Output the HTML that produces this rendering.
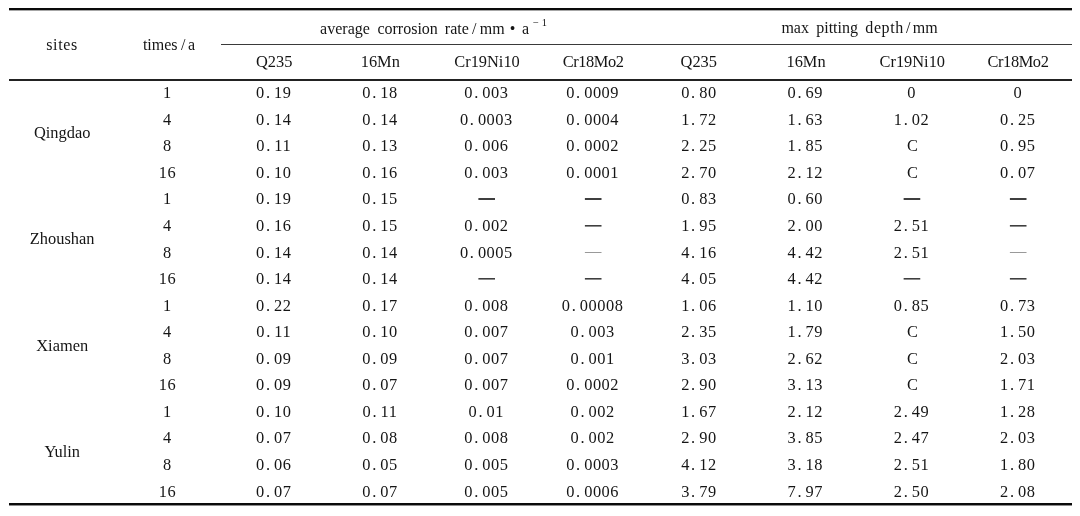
<!DOCTYPE html>
<html><head><meta charset="utf-8"><title>Corrosion data table</title>
<style>
html,body{margin:0;padding:0;background:#fff;}
#t{position:absolute;left:0;top:0;width:1080px;height:516px;filter:grayscale(1);}
body{width:1080px;height:516px;overflow:hidden;position:relative;
 font-family:"Liberation Serif","Noto Serif CJK SC",serif;color:#151515;}
.r{position:absolute;}
.c{position:absolute;width:106.30px;text-align:center;white-space:nowrap;height:20px;line-height:20px;font-size:16.40px;}
.n{letter-spacing:0.5px;}
.c b{font-weight:normal;margin-left:1.2px;letter-spacing:4.0px;}
.w{position:absolute;white-space:nowrap;height:20px;line-height:20px;font-size:16px;}
.s{font-size:10.5px;}
.s i{font-style:normal;letter-spacing:3px;}
.d{position:relative;top:-2px;}
.d2{text-shadow:0 1px 0 #151515;}
.d15{text-shadow:0 0.5px 0 rgba(21,21,21,.6);}
.dl{color:#888;}
</style></head><body><div id="t">

<div class="r" style="left:9px;top:8px;width:1063px;height:2px;background:#0a0a0a;box-shadow:0 1px 0 rgba(0,0,0,.35)"></div>
<div class="r" style="left:221px;top:44px;width:851px;height:1px;background:#3a3a3a"></div>
<div class="r" style="left:9px;top:79px;width:1063px;height:2px;background:#222"></div>
<div class="r" style="left:9px;top:503px;width:1063px;height:2px;background:#0a0a0a;box-shadow:0 1px 0 rgba(0,0,0,.45)"></div>
<div class="w" style="left:320.1px;top:19px">average</div>
<div class="w" style="left:377.4px;top:19px">corrosion</div>
<div class="w" style="left:444.8px;top:19px">rate</div>
<div class="w" style="left:472.1px;top:19px">/</div>
<div class="w" style="left:479.8px;top:19px">mm</div>
<div class="w" style="left:509.8px;top:19px">•</div>
<div class="w" style="left:522.0px;top:19px">a</div>
<div class="w s" style="left:532.9px;top:15px;line-height:16px;height:16px"><i>−</i>1</div>
<div class="w" style="left:781.4px;top:18px">max</div>
<div class="w" style="left:816.2px;top:18px">pitting</div>
<div class="w" style="left:865.3px;top:18px;letter-spacing:0.6px">depth</div>
<div class="w" style="left:906.0px;top:18px">/</div>
<div class="w" style="left:912.8px;top:18px">mm</div>
<div class="w" style="left:46.3px;top:35px;letter-spacing:0.6px">sites</div>
<div class="w" style="left:142.9px;top:35px">times</div>
<div class="w" style="left:181.0px;top:35px">/</div>
<div class="w" style="left:187.9px;top:35px">a</div>
<div class="c" style="left:221.10px;top:51.9px">Q235</div>
<div class="c" style="left:327.15px;top:51.9px">16Mn</div>
<div class="c" style="left:433.90px;top:51.9px">Cr19Ni10</div>
<div class="c" style="left:540.00px;top:51.9px;letter-spacing:-0.4px">Cr18Mo2</div>
<div class="c" style="left:645.65px;top:51.9px">Q235</div>
<div class="c" style="left:752.90px;top:51.9px">16Mn</div>
<div class="c" style="left:859.15px;top:51.9px">Cr19Ni10</div>
<div class="c" style="left:964.85px;top:51.9px;letter-spacing:-0.4px">Cr18Mo2</div>
<div class="c" style="left:9.05px;top:122.5px">Qingdao</div>
<div class="c" style="left:9.05px;top:229.3px">Zhoushan</div>
<div class="c" style="left:9.05px;top:335.6px">Xiamen</div>
<div class="c" style="left:9.05px;top:441.7px">Yulin</div>
<div class="c n" style="left:114.25px;top:82.7px">1</div>
<div class="c n" style="left:220.55px;top:82.7px">0<b>.</b>19</div>
<div class="c n" style="left:326.85px;top:82.7px">0<b>.</b>18</div>
<div class="c n" style="left:433.15px;top:82.7px">0<b>.</b>003</div>
<div class="c n" style="left:539.45px;top:82.7px">0<b>.</b>0009</div>
<div class="c n" style="left:645.75px;top:82.7px">0<b>.</b>80</div>
<div class="c n" style="left:752.05px;top:82.7px">0<b>.</b>69</div>
<div class="c n" style="left:858.35px;top:82.7px">0</div>
<div class="c n" style="left:964.65px;top:82.7px">0</div>
<div class="c n" style="left:114.25px;top:109.7px">4</div>
<div class="c n" style="left:220.55px;top:109.7px">0<b>.</b>14</div>
<div class="c n" style="left:326.85px;top:109.7px">0<b>.</b>14</div>
<div class="c n" style="left:433.15px;top:109.7px">0<b>.</b>0003</div>
<div class="c n" style="left:539.45px;top:109.7px">0<b>.</b>0004</div>
<div class="c n" style="left:645.75px;top:109.7px">1<b>.</b>72</div>
<div class="c n" style="left:752.05px;top:109.7px">1<b>.</b>63</div>
<div class="c n" style="left:858.35px;top:109.7px">1<b>.</b>02</div>
<div class="c n" style="left:964.65px;top:109.7px">0<b>.</b>25</div>
<div class="c n" style="left:114.25px;top:135.7px">8</div>
<div class="c n" style="left:220.55px;top:135.7px">0<b>.</b>11</div>
<div class="c n" style="left:326.85px;top:135.7px">0<b>.</b>13</div>
<div class="c n" style="left:433.15px;top:135.7px">0<b>.</b>006</div>
<div class="c n" style="left:539.45px;top:135.7px">0<b>.</b>0002</div>
<div class="c n" style="left:645.75px;top:135.7px">2<b>.</b>25</div>
<div class="c n" style="left:752.05px;top:135.7px">1<b>.</b>85</div>
<div class="c" style="left:859.40px;top:135.7px">C</div>
<div class="c n" style="left:964.65px;top:135.7px">0<b>.</b>95</div>
<div class="c n" style="left:114.25px;top:162.7px">16</div>
<div class="c n" style="left:220.55px;top:162.7px">0<b>.</b>10</div>
<div class="c n" style="left:326.85px;top:162.7px">0<b>.</b>16</div>
<div class="c n" style="left:433.15px;top:162.7px">0<b>.</b>003</div>
<div class="c n" style="left:539.45px;top:162.7px">0<b>.</b>0001</div>
<div class="c n" style="left:645.75px;top:162.7px">2<b>.</b>70</div>
<div class="c n" style="left:752.05px;top:162.7px">2<b>.</b>12</div>
<div class="c" style="left:859.40px;top:162.7px">C</div>
<div class="c n" style="left:964.65px;top:162.7px">0<b>.</b>07</div>
<div class="c n" style="left:114.25px;top:188.7px">1</div>
<div class="c n" style="left:220.55px;top:188.7px">0<b>.</b>19</div>
<div class="c n" style="left:326.85px;top:188.7px">0<b>.</b>15</div>
<div class="c n" style="left:433.90px;top:188.7px"><span class="d d2">—</span></div>
<div class="c n" style="left:540.20px;top:188.7px"><span class="d d2">—</span></div>
<div class="c n" style="left:645.75px;top:188.7px">0<b>.</b>83</div>
<div class="c n" style="left:752.05px;top:188.7px">0<b>.</b>60</div>
<div class="c n" style="left:859.10px;top:188.7px"><span class="d d2">—</span></div>
<div class="c n" style="left:965.40px;top:188.7px"><span class="d d2">—</span></div>
<div class="c n" style="left:114.25px;top:215.7px">4</div>
<div class="c n" style="left:220.55px;top:215.7px">0<b>.</b>16</div>
<div class="c n" style="left:326.85px;top:215.7px">0<b>.</b>15</div>
<div class="c n" style="left:433.15px;top:215.7px">0<b>.</b>002</div>
<div class="c n" style="left:540.20px;top:215.7px"><span class="d d15">—</span></div>
<div class="c n" style="left:645.75px;top:215.7px">1<b>.</b>95</div>
<div class="c n" style="left:752.05px;top:215.7px">2<b>.</b>00</div>
<div class="c n" style="left:858.35px;top:215.7px">2<b>.</b>51</div>
<div class="c n" style="left:965.40px;top:215.7px"><span class="d d15">—</span></div>
<div class="c n" style="left:114.25px;top:242.7px">8</div>
<div class="c n" style="left:220.55px;top:242.7px">0<b>.</b>14</div>
<div class="c n" style="left:326.85px;top:242.7px">0<b>.</b>14</div>
<div class="c n" style="left:433.15px;top:242.7px">0<b>.</b>0005</div>
<div class="c n" style="left:540.20px;top:242.7px"><span class="d dl">—</span></div>
<div class="c n" style="left:645.75px;top:242.7px">4<b>.</b>16</div>
<div class="c n" style="left:752.05px;top:242.7px">4<b>.</b>42</div>
<div class="c n" style="left:858.35px;top:242.7px">2<b>.</b>51</div>
<div class="c n" style="left:965.40px;top:242.7px"><span class="d dl">—</span></div>
<div class="c n" style="left:114.25px;top:268.7px">16</div>
<div class="c n" style="left:220.55px;top:268.7px">0<b>.</b>14</div>
<div class="c n" style="left:326.85px;top:268.7px">0<b>.</b>14</div>
<div class="c n" style="left:433.90px;top:268.7px"><span class="d d15">—</span></div>
<div class="c n" style="left:540.20px;top:268.7px"><span class="d d15">—</span></div>
<div class="c n" style="left:645.75px;top:268.7px">4<b>.</b>05</div>
<div class="c n" style="left:752.05px;top:268.7px">4<b>.</b>42</div>
<div class="c n" style="left:859.10px;top:268.7px"><span class="d d15">—</span></div>
<div class="c n" style="left:965.40px;top:268.7px"><span class="d d15">—</span></div>
<div class="c n" style="left:114.25px;top:295.7px">1</div>
<div class="c n" style="left:220.55px;top:295.7px">0<b>.</b>22</div>
<div class="c n" style="left:326.85px;top:295.7px">0<b>.</b>17</div>
<div class="c n" style="left:433.15px;top:295.7px">0<b>.</b>008</div>
<div class="c n" style="left:539.45px;top:295.7px">0<b>.</b>00008</div>
<div class="c n" style="left:645.75px;top:295.7px">1<b>.</b>06</div>
<div class="c n" style="left:752.05px;top:295.7px">1<b>.</b>10</div>
<div class="c n" style="left:858.35px;top:295.7px">0<b>.</b>85</div>
<div class="c n" style="left:964.65px;top:295.7px">0<b>.</b>73</div>
<div class="c n" style="left:114.25px;top:321.7px">4</div>
<div class="c n" style="left:220.55px;top:321.7px">0<b>.</b>11</div>
<div class="c n" style="left:326.85px;top:321.7px">0<b>.</b>10</div>
<div class="c n" style="left:433.15px;top:321.7px">0<b>.</b>007</div>
<div class="c n" style="left:539.45px;top:321.7px">0<b>.</b>003</div>
<div class="c n" style="left:645.75px;top:321.7px">2<b>.</b>35</div>
<div class="c n" style="left:752.05px;top:321.7px">1<b>.</b>79</div>
<div class="c" style="left:859.40px;top:321.7px">C</div>
<div class="c n" style="left:964.65px;top:321.7px">1<b>.</b>50</div>
<div class="c n" style="left:114.25px;top:348.7px">8</div>
<div class="c n" style="left:220.55px;top:348.7px">0<b>.</b>09</div>
<div class="c n" style="left:326.85px;top:348.7px">0<b>.</b>09</div>
<div class="c n" style="left:433.15px;top:348.7px">0<b>.</b>007</div>
<div class="c n" style="left:539.45px;top:348.7px">0<b>.</b>001</div>
<div class="c n" style="left:645.75px;top:348.7px">3<b>.</b>03</div>
<div class="c n" style="left:752.05px;top:348.7px">2<b>.</b>62</div>
<div class="c" style="left:859.40px;top:348.7px">C</div>
<div class="c n" style="left:964.65px;top:348.7px">2<b>.</b>03</div>
<div class="c n" style="left:114.25px;top:374.7px">16</div>
<div class="c n" style="left:220.55px;top:374.7px">0<b>.</b>09</div>
<div class="c n" style="left:326.85px;top:374.7px">0<b>.</b>07</div>
<div class="c n" style="left:433.15px;top:374.7px">0<b>.</b>007</div>
<div class="c n" style="left:539.45px;top:374.7px">0<b>.</b>0002</div>
<div class="c n" style="left:645.75px;top:374.7px">2<b>.</b>90</div>
<div class="c n" style="left:752.05px;top:374.7px">3<b>.</b>13</div>
<div class="c" style="left:859.40px;top:374.7px">C</div>
<div class="c n" style="left:964.65px;top:374.7px">1<b>.</b>71</div>
<div class="c n" style="left:114.25px;top:401.7px">1</div>
<div class="c n" style="left:220.55px;top:401.7px">0<b>.</b>10</div>
<div class="c n" style="left:326.85px;top:401.7px">0<b>.</b>11</div>
<div class="c n" style="left:433.15px;top:401.7px">0<b>.</b>01</div>
<div class="c n" style="left:539.45px;top:401.7px">0<b>.</b>002</div>
<div class="c n" style="left:645.75px;top:401.7px">1<b>.</b>67</div>
<div class="c n" style="left:752.05px;top:401.7px">2<b>.</b>12</div>
<div class="c n" style="left:858.35px;top:401.7px">2<b>.</b>49</div>
<div class="c n" style="left:964.65px;top:401.7px">1<b>.</b>28</div>
<div class="c n" style="left:114.25px;top:427.7px">4</div>
<div class="c n" style="left:220.55px;top:427.7px">0<b>.</b>07</div>
<div class="c n" style="left:326.85px;top:427.7px">0<b>.</b>08</div>
<div class="c n" style="left:433.15px;top:427.7px">0<b>.</b>008</div>
<div class="c n" style="left:539.45px;top:427.7px">0<b>.</b>002</div>
<div class="c n" style="left:645.75px;top:427.7px">2<b>.</b>90</div>
<div class="c n" style="left:752.05px;top:427.7px">3<b>.</b>85</div>
<div class="c n" style="left:858.35px;top:427.7px">2<b>.</b>47</div>
<div class="c n" style="left:964.65px;top:427.7px">2<b>.</b>03</div>
<div class="c n" style="left:114.25px;top:454.7px">8</div>
<div class="c n" style="left:220.55px;top:454.7px">0<b>.</b>06</div>
<div class="c n" style="left:326.85px;top:454.7px">0<b>.</b>05</div>
<div class="c n" style="left:433.15px;top:454.7px">0<b>.</b>005</div>
<div class="c n" style="left:539.45px;top:454.7px">0<b>.</b>0003</div>
<div class="c n" style="left:645.75px;top:454.7px">4<b>.</b>12</div>
<div class="c n" style="left:752.05px;top:454.7px">3<b>.</b>18</div>
<div class="c n" style="left:858.35px;top:454.7px">2<b>.</b>51</div>
<div class="c n" style="left:964.65px;top:454.7px">1<b>.</b>80</div>
<div class="c n" style="left:114.25px;top:481.7px">16</div>
<div class="c n" style="left:220.55px;top:481.7px">0<b>.</b>07</div>
<div class="c n" style="left:326.85px;top:481.7px">0<b>.</b>07</div>
<div class="c n" style="left:433.15px;top:481.7px">0<b>.</b>005</div>
<div class="c n" style="left:539.45px;top:481.7px">0<b>.</b>0006</div>
<div class="c n" style="left:645.75px;top:481.7px">3<b>.</b>79</div>
<div class="c n" style="left:752.05px;top:481.7px">7<b>.</b>97</div>
<div class="c n" style="left:858.35px;top:481.7px">2<b>.</b>50</div>
<div class="c n" style="left:964.65px;top:481.7px">2<b>.</b>08</div>
</div></body></html>
